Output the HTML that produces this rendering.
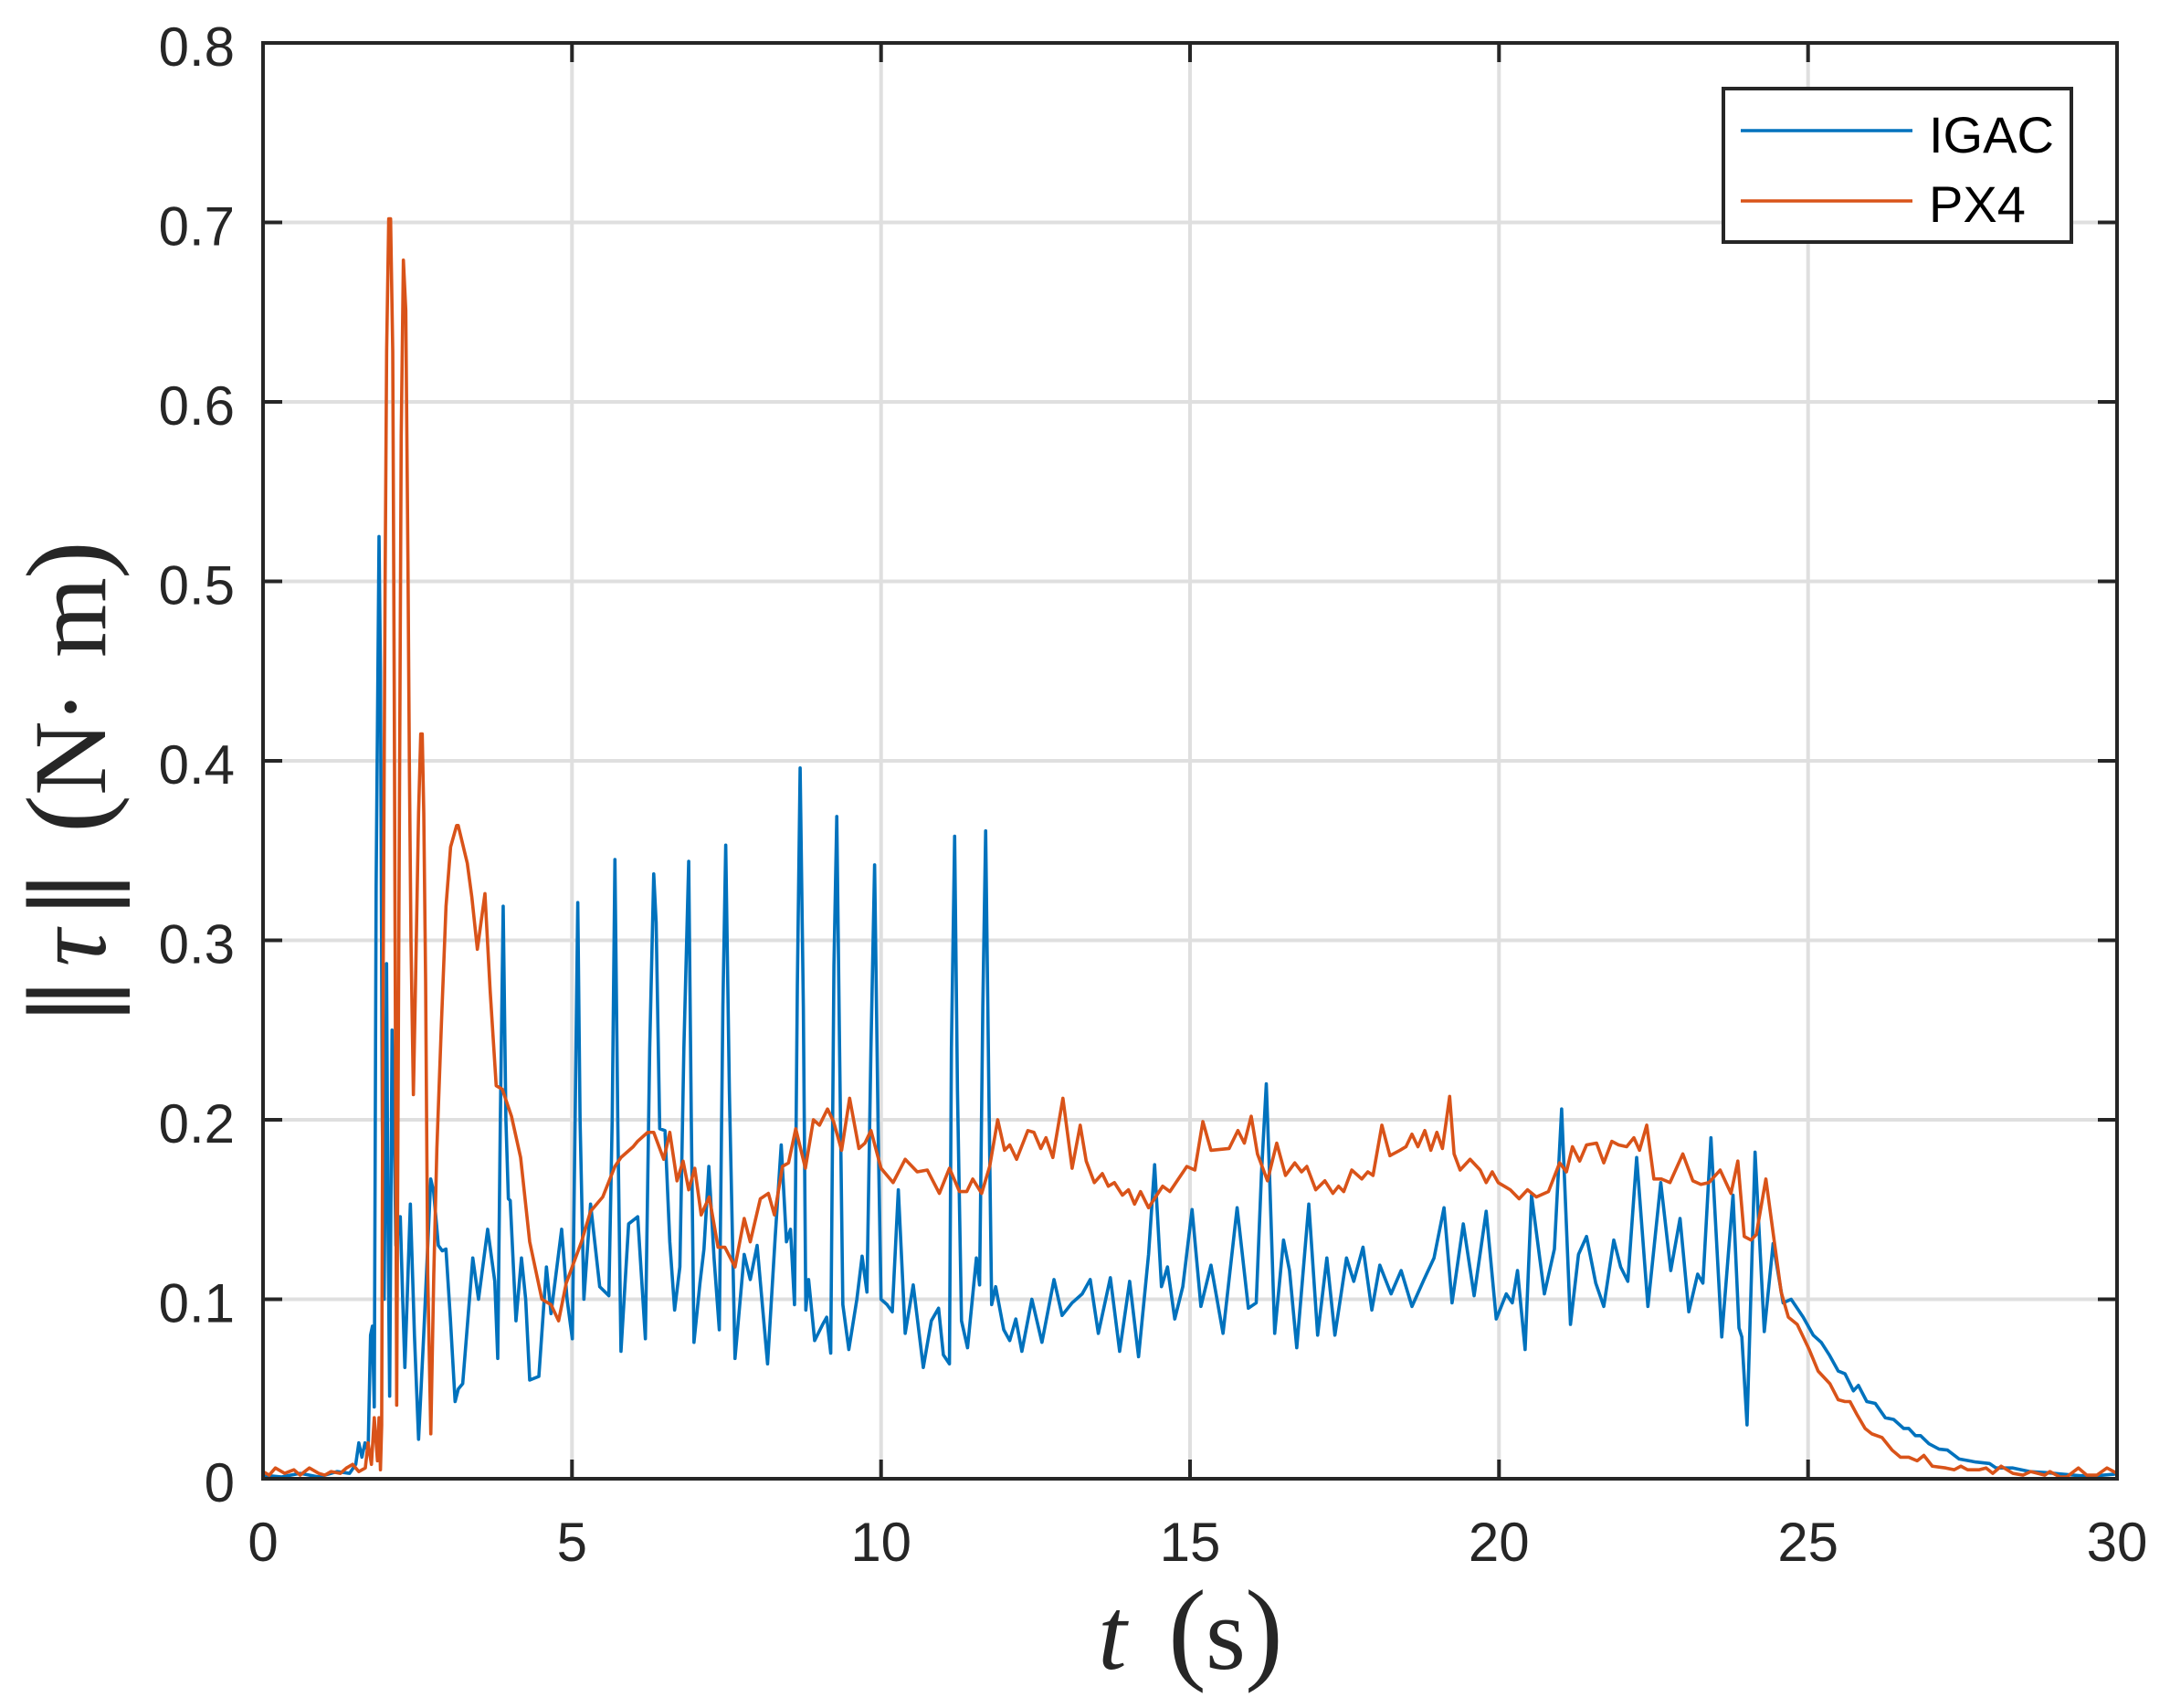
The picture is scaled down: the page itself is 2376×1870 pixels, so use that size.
<!DOCTYPE html>
<html>
<head>
<meta charset="utf-8">
<style>
html,body{margin:0;padding:0;background:#fff;}
svg{display:block}
</style>
</head>
<body>
<svg width="2376" height="1870" viewBox="0 0 2376 1870" xmlns="http://www.w3.org/2000/svg">
<rect width="2376" height="1870" fill="#fff"/>
<!-- grid -->
<g stroke="#dfdfdf" stroke-width="4" fill="none">
<path d="M626.3 47V1619M964.7 47V1619M1303 47V1619M1641.3 47V1619M1979.7 47V1619"/>
<path d="M288 243.5H2318M288 440H2318M288 636.5H2318M288 833H2318M288 1029.5H2318M288 1226H2318M288 1422.5H2318"/>
</g>
<!-- data -->
<g transform="translate(288,1619) scale(67.6667,-1965)" fill="none" stroke-linejoin="round" stroke-linecap="round">
<polyline vector-effect="non-scaling-stroke" stroke="#0072BD" stroke-width="3.6" points="0,0.002 0.3,0.001 0.6,0.003 0.9,0.001 1.2,0.004 1.4,0.003 1.5,0.008 1.55,0.02 1.6,0.012 1.65,0.02 1.7,0.015 1.74,0.08 1.77,0.085 1.8,0.04 1.83,0.33 1.877,0.525 1.9,0.45 1.93,0.2 1.96,0.1 1.999,0.287 2.02,0.15 2.049,0.046 2.088,0.25 2.12,0.2 2.15,0.13 2.221,0.146 2.26,0.1 2.295,0.062 2.384,0.153 2.45,0.08 2.517,0.022 2.6,0.08 2.714,0.167 2.76,0.16 2.837,0.13 2.9,0.127 2.96,0.128 3.03,0.09 3.108,0.043 3.16,0.05 3.231,0.053 3.394,0.123 3.487,0.1 3.635,0.139 3.75,0.11 3.798,0.067 3.84,0.2 3.886,0.319 3.93,0.2 3.97,0.156 4.0,0.155 4.093,0.088 4.182,0.123 4.25,0.1 4.315,0.055 4.463,0.057 4.586,0.118 4.66,0.092 4.832,0.139 4.92,0.1 5.005,0.078 5.05,0.2 5.093,0.321 5.13,0.2 5.192,0.1 5.3,0.153 5.448,0.107 5.596,0.102 5.65,0.2 5.694,0.345 5.74,0.2 5.792,0.071 5.916,0.142 6.063,0.146 6.187,0.078 6.257,0.24 6.322,0.337 6.361,0.31 6.419,0.195 6.504,0.194 6.582,0.132 6.66,0.094 6.745,0.118 6.81,0.24 6.888,0.344 6.93,0.2 6.973,0.076 7.07,0.109 7.135,0.128 7.214,0.174 7.298,0.123 7.383,0.083 7.441,0.263 7.487,0.353 7.546,0.216 7.637,0.067 7.786,0.125 7.884,0.111 7.995,0.13 8.164,0.064 8.288,0.135 8.385,0.186 8.47,0.132 8.535,0.139 8.6,0.097 8.646,0.275 8.691,0.396 8.743,0.263 8.783,0.094 8.828,0.111 8.926,0.077 9.056,0.086 9.121,0.09 9.186,0.07 9.238,0.286 9.284,0.369 9.329,0.24 9.382,0.097 9.479,0.072 9.609,0.1 9.694,0.124 9.772,0.104 9.837,0.24 9.896,0.342 9.954,0.193 10.0,0.1 10.098,0.097 10.182,0.093 10.28,0.161 10.391,0.081 10.521,0.108 10.684,0.062 10.814,0.088 10.931,0.095 11.009,0.069 11.107,0.064 11.139,0.24 11.191,0.358 11.237,0.216 11.302,0.088 11.4,0.073 11.543,0.123 11.595,0.108 11.647,0.263 11.693,0.361 11.745,0.216 11.79,0.097 11.855,0.107 11.986,0.083 12.083,0.077 12.181,0.089 12.279,0.071 12.441,0.1 12.604,0.076 12.799,0.111 12.93,0.091 13.092,0.098 13.255,0.103 13.385,0.111 13.516,0.081 13.711,0.112 13.861,0.071 14.023,0.11 14.167,0.068 14.329,0.125 14.427,0.175 14.538,0.107 14.635,0.118 14.753,0.089 14.883,0.107 15.033,0.15 15.176,0.096 15.339,0.119 15.534,0.081 15.762,0.151 15.944,0.095 16.071,0.098 16.156,0.17 16.234,0.22 16.286,0.17 16.37,0.081 16.513,0.133 16.61,0.116 16.727,0.073 16.922,0.153 17.065,0.08 17.214,0.123 17.344,0.08 17.532,0.123 17.649,0.11 17.799,0.129 17.942,0.094 18.071,0.119 18.253,0.103 18.416,0.116 18.591,0.096 18.786,0.111 18.948,0.123 19.11,0.151 19.24,0.098 19.422,0.142 19.597,0.102 19.792,0.149 19.955,0.089 20.117,0.103 20.214,0.098 20.299,0.116 20.422,0.072 20.526,0.158 20.734,0.103 20.896,0.128 21.013,0.206 21.156,0.086 21.286,0.125 21.416,0.135 21.565,0.109 21.695,0.096 21.857,0.133 21.968,0.118 22.084,0.11 22.227,0.179 22.409,0.096 22.617,0.165 22.779,0.116 22.929,0.145 23.071,0.093 23.214,0.114 23.299,0.109 23.429,0.19 23.604,0.079 23.786,0.158 23.883,0.084 23.929,0.079 24.013,0.03 24.143,0.182 24.292,0.082 24.435,0.131 24.597,0.098 24.727,0.1 24.922,0.09 25.084,0.08 25.214,0.076 25.344,0.069 25.489,0.06 25.598,0.0585 25.734,0.049 25.815,0.052 25.951,0.043 26.087,0.042 26.25,0.034 26.386,0.033 26.549,0.028 26.63,0.028 26.739,0.024 26.821,0.024 26.957,0.0195 27.12,0.0165 27.255,0.016 27.446,0.011 27.717,0.0093 27.935,0.0085 28.043,0.006 28.315,0.006 28.587,0.004 28.859,0.0034 29.13,0.0025 29.402,0.0017 29.674,0.0017 29.946,0.0025 30,0.003"/>
<polyline vector-effect="non-scaling-stroke" stroke="#D95319" stroke-width="3.6" points="0,0.004 0.1,0.002 0.2,0.006 0.35,0.003 0.5,0.005 0.6,0.002 0.75,0.006 0.9,0.003 1.0,0.002 1.1,0.004 1.25,0.003 1.35,0.006 1.45,0.008 1.55,0.004 1.655,0.006 1.7,0.02 1.754,0.008 1.8,0.034 1.852,0.01 1.877,0.034 1.9,0.005 1.92,0.03 1.94,0.254 1.975,0.497 2.0,0.628 2.034,0.702 2.064,0.702 2.099,0.628 2.123,0.441 2.163,0.041 2.197,0.3 2.236,0.581 2.271,0.679 2.31,0.651 2.345,0.511 2.369,0.394 2.394,0.3 2.433,0.214 2.468,0.277 2.517,0.371 2.552,0.415 2.576,0.415 2.601,0.371 2.631,0.277 2.665,0.114 2.715,0.025 2.763,0.114 2.813,0.184 2.887,0.254 2.961,0.319 3.035,0.352 3.133,0.364 3.158,0.364 3.305,0.343 3.379,0.324 3.468,0.295 3.591,0.326 3.675,0.272 3.773,0.219 3.872,0.217 4.02,0.202 4.168,0.179 4.315,0.132 4.512,0.1 4.66,0.097 4.783,0.088 4.906,0.109 5.153,0.132 5.3,0.149 5.497,0.157 5.694,0.174 5.792,0.179 5.989,0.185 6.061,0.188 6.224,0.193 6.322,0.193 6.484,0.178 6.582,0.193 6.699,0.166 6.797,0.177 6.888,0.161 6.986,0.173 7.09,0.147 7.22,0.157 7.363,0.129 7.474,0.129 7.637,0.118 7.786,0.145 7.884,0.132 8.047,0.156 8.177,0.159 8.275,0.147 8.405,0.174 8.503,0.176 8.62,0.195 8.776,0.173 8.906,0.2 9.004,0.197 9.134,0.206 9.232,0.199 9.362,0.183 9.492,0.212 9.642,0.184 9.74,0.187 9.837,0.194 10.0,0.173 10.195,0.165 10.391,0.178 10.586,0.171 10.749,0.172 10.944,0.159 11.107,0.173 11.27,0.16 11.387,0.16 11.484,0.167 11.628,0.159 11.758,0.174 11.888,0.2 11.999,0.183 12.083,0.186 12.194,0.178 12.376,0.194 12.474,0.193 12.585,0.184 12.669,0.19 12.78,0.179 12.943,0.212 13.092,0.173 13.223,0.197 13.32,0.177 13.451,0.165 13.581,0.17 13.678,0.163 13.776,0.165 13.906,0.158 14.004,0.161 14.102,0.153 14.199,0.16 14.329,0.151 14.557,0.163 14.674,0.16 14.948,0.174 15.078,0.172 15.208,0.199 15.339,0.183 15.632,0.184 15.775,0.194 15.879,0.187 15.99,0.202 16.091,0.181 16.253,0.166 16.403,0.187 16.545,0.169 16.695,0.176 16.805,0.171 16.89,0.174 17.034,0.161 17.182,0.166 17.312,0.159 17.403,0.163 17.487,0.16 17.617,0.172 17.779,0.167 17.877,0.171 17.961,0.169 18.104,0.197 18.234,0.18 18.396,0.183 18.494,0.185 18.591,0.192 18.688,0.185 18.799,0.194 18.896,0.183 18.994,0.193 19.084,0.184 19.201,0.213 19.273,0.181 19.37,0.172 19.532,0.178 19.695,0.172 19.792,0.165 19.89,0.171 19.987,0.165 20.182,0.161 20.325,0.156 20.461,0.161 20.604,0.157 20.799,0.16 20.981,0.176 21.091,0.171 21.188,0.185 21.305,0.177 21.416,0.186 21.578,0.187 21.695,0.176 21.825,0.188 21.935,0.186 22.065,0.185 22.182,0.19 22.273,0.183 22.39,0.197 22.506,0.167 22.63,0.167 22.766,0.165 22.974,0.181 23.136,0.166 23.266,0.164 23.396,0.165 23.578,0.172 23.753,0.159 23.864,0.177 23.968,0.135 24.078,0.133 24.162,0.136 24.318,0.167 24.435,0.137 24.565,0.104 24.682,0.09 24.825,0.086 25.019,0.072 25.163,0.06 25.353,0.053 25.489,0.044 25.598,0.043 25.679,0.043 25.788,0.036 25.924,0.028 26.033,0.025 26.196,0.023 26.359,0.016 26.495,0.012 26.63,0.012 26.766,0.01 26.875,0.013 27.011,0.007 27.228,0.006 27.364,0.005 27.473,0.007 27.582,0.005 27.772,0.005 27.88,0.006 27.989,0.003 28.125,0.007 28.315,0.003 28.478,0.002 28.603,0.004 28.832,0.002 28.913,0.004 29.076,0.001 29.185,0.001 29.375,0.006 29.511,0.002 29.674,0.002 29.837,0.006 30,0.003"/>
</g>
<!-- axes box -->
<rect x="288" y="47" width="2030" height="1572" fill="none" stroke="#262626" stroke-width="4"/>
<g stroke="#262626" stroke-width="4" fill="none">
<path d="M626.3 1619V1598M964.7 1619V1598M1303 1619V1598M1641.3 1619V1598M1979.7 1619V1598"/>
<path d="M626.3 47V68M964.7 47V68M1303 47V68M1641.3 47V68M1979.7 47V68"/>
<path d="M288 243.5H309M288 440H309M288 636.5H309M288 833H309M288 1029.5H309M288 1226H309M288 1422.5H309"/>
<path d="M2318 243.5H2297M2318 440H2297M2318 636.5H2297M2318 833H2297M2318 1029.5H2297M2318 1226H2297M2318 1422.5H2297"/>
</g>
<!-- y tick labels -->
<g font-family="'Liberation Sans', Arial, sans-serif" font-size="60" fill="#262626" text-anchor="end">
<text x="257" y="1644">0</text>
<text x="257" y="1447.5">0.1</text>
<text x="257" y="1251">0.2</text>
<text x="257" y="1054.5">0.3</text>
<text x="257" y="858">0.4</text>
<text x="257" y="661.5">0.5</text>
<text x="257" y="465">0.6</text>
<text x="257" y="268.5">0.7</text>
<text x="257" y="72">0.8</text>
</g>
<!-- x tick labels -->
<g font-family="'Liberation Sans', Arial, sans-serif" font-size="60" fill="#262626" text-anchor="middle">
<text x="288" y="1709">0</text>
<text x="626.3" y="1709">5</text>
<text x="964.7" y="1709">10</text>
<text x="1303" y="1709">15</text>
<text x="1641.3" y="1709">20</text>
<text x="1979.7" y="1709">25</text>
<text x="2318" y="1709">30</text>
</g>
<!-- x label -->
<g font-family="'Liberation Serif', 'DejaVu Serif', serif" fill="#262626" text-anchor="middle">
<text x="1218" y="1827" font-size="113" font-style="italic">t</text>
<text x="1300" y="1827" font-size="125">(</text>
<text x="1342" y="1827" font-size="113">s</text>
<text x="1384" y="1827" font-size="125">)</text>
</g>
<!-- y label -->
<g transform="translate(115,1110) rotate(-90)" font-family="'Liberation Serif', 'DejaVu Serif', serif" fill="#262626" text-anchor="middle">
<text x="14" y="0" font-size="113" font-family="'DejaVu Serif', 'Liberation Serif', serif">‖</text>
<text x="72" y="0" font-size="113" font-style="italic">τ</text>
<text x="131" y="0" font-size="113" font-family="'DejaVu Serif', 'Liberation Serif', serif">‖</text>
<text x="219" y="0" font-size="125">(</text>
<text x="280" y="0" font-size="113">N</text>
<text x="336" y="0" font-size="113">·</text>
<text x="434" y="0" font-size="113">m</text>
<text x="497" y="0" font-size="125">)</text>
</g>
<!-- legend -->
<rect x="1887" y="97" width="381" height="168" fill="#fff" stroke="#262626" stroke-width="4"/>
<line x1="1906" y1="143" x2="2094" y2="143" stroke="#0072BD" stroke-width="3.6"/>
<line x1="1906" y1="220" x2="2094" y2="220" stroke="#D95319" stroke-width="3.6"/>
<g font-family="'Liberation Sans', Arial, sans-serif" font-size="56" fill="#000">
<text x="2112" y="167">IGAC</text>
<text x="2112" y="243">PX4</text>
</g>
</svg>
</body>
</html>
